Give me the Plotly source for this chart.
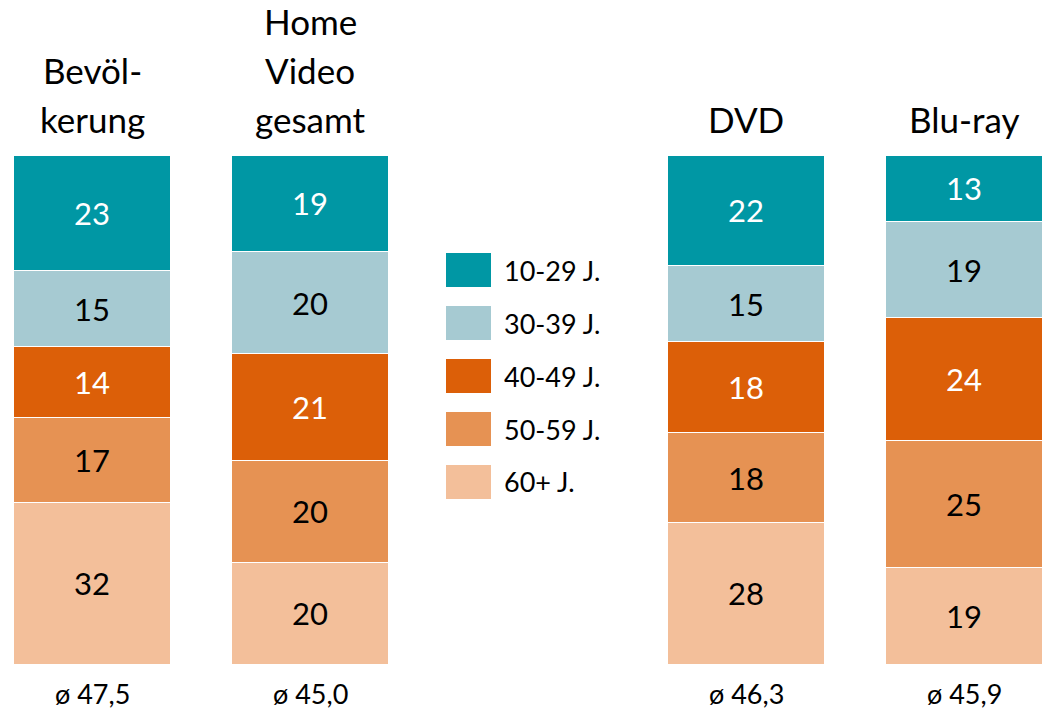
import plotly.graph_objects as go

# Age shares (%) per group; position 2 stays empty for the legend
groups = ["Bevöl-<br>kerung", "Home<br>Video<br>gesamt", "DVD", "Blu-ray"]
positions = [0, 1, 3, 4]
avg_age = ["ø 47,5", "ø 45,0", "ø 46,3", "ø 45,9"]

age_bands = ["60+ J.", "50-59 J.", "40-49 J.", "30-39 J.", "10-29 J."]
share_60 = [32, 20, 28, 19]
share_50 = [17, 20, 18, 25]
share_40 = [14, 21, 18, 24]
share_30 = [15, 20, 15, 19]
share_10 = [23, 19, 22, 13]

colors = ["#F3BF9A", "#E69253", "#DC5F08", "#A6CAD2", "#0097A4"]
text_colors = ["black", "black", "white", "black", "white"]

FONT = "Lato"
W, H = 1056, 714
TOP, BOTTOM = 155, 50
PX_PER_UNIT = 218
FIRST_CENTER = 92
LINE_GAP = 49

fig = go.Figure()
for name, vals, col, tcol in zip(
    age_bands, [share_60, share_50, share_40, share_30, share_10], colors, text_colors
):
    fig.add_trace(go.Bar(
        x=positions, y=vals, name=name, text=vals, texttemplate="%{text}",
        textposition="inside", insidetextanchor="middle", textangle=0,
        textfont=dict(family=FONT, size=31, color=tcol),
        marker=dict(color=col, line=dict(color="white", width=1)),
        width=0.716, showlegend=False,
    ))

x0 = -FIRST_CENTER / PX_PER_UNIT
x1 = (W - FIRST_CENTER) / PX_PER_UNIT

annotations = []
# Group headings, one annotation per line so the line spacing can be set
for p, g in zip(positions, groups):
    lines = g.split("<br>")
    for k, line in enumerate(reversed(lines)):
        annotations.append(dict(x=p, xref="x", y=1, yref="paper", yanchor="middle",
                                yshift=36 + k * LINE_GAP, text=line, showarrow=False,
                                font=dict(family=FONT, size=35, color="black")))
for p, a in zip(positions, avg_age):
    annotations.append(dict(x=p, xref="x", y=0, yref="paper", yanchor="top",
                            yshift=-11, text=a, showarrow=False,
                            font=dict(family=FONT, size=27, color="black")))

# Legend drawn as swatches in the empty slot
plot_h = H - TOP - BOTTOM
shapes = []
legend_top = 253
for i, (name, col) in enumerate(zip(age_bands[::-1], colors[::-1])):
    ty = legend_top + i * 53
    shapes.append(dict(type="rect", xref="paper", yref="paper",
                       x0=446 / W, x1=491 / W,
                       y0=(H - BOTTOM - (ty + 34)) / plot_h,
                       y1=(H - BOTTOM - ty) / plot_h,
                       fillcolor=col, line=dict(width=0)))
    annotations.append(dict(x=502 / W, xref="paper", xanchor="left",
                            y=(H - BOTTOM - (ty + 17)) / plot_h, yref="paper",
                            yanchor="middle", text=name, showarrow=False,
                            font=dict(family=FONT, size=27, color="black")))

fig.update_layout(
    barmode="stack", barnorm="percent",
    width=W, height=H,
    margin=dict(l=0, r=0, t=TOP, b=BOTTOM),
    paper_bgcolor="white", plot_bgcolor="white",
    xaxis=dict(range=[x0, x1], visible=False),
    yaxis=dict(range=[0, 100], visible=False),
    annotations=annotations, shapes=shapes,
    uniformtext=dict(mode=False),
)

fig.write_html("out.html")
